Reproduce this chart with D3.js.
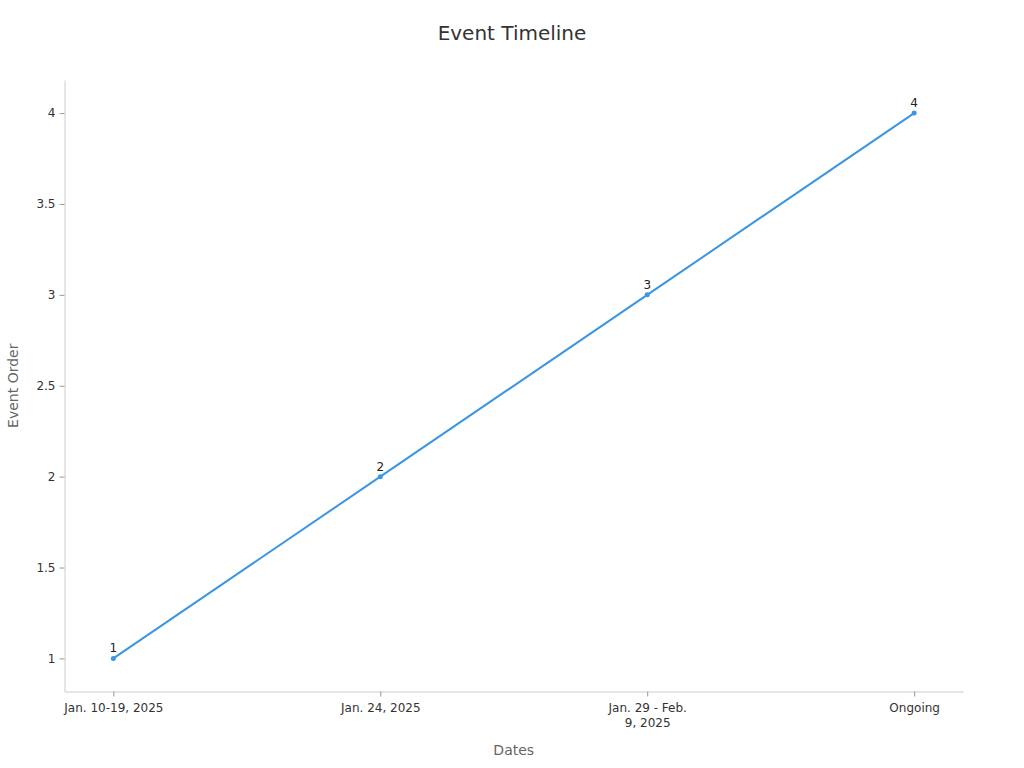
<!DOCTYPE html>
<html>
<head>
<meta charset="utf-8">
<script src="https://cdn.jsdelivr.net/npm/d3@7"></script>
<style>
  body { margin: 0; background: #fff; }
  svg, svg text { font-family: "DejaVu Sans", sans-serif; }
</style>
</head>
<body>
<svg width="1024" height="768"></svg>
<script>
// chart data
var dates = ['Jan. 10-19, 2025', 'Jan. 24, 2025', 'Jan. 29 - Feb. 9, 2025', 'Ongoing'];
var eventOrder = [1, 2, 3, 4];
var yTicks = [1, 1.5, 2, 2.5, 3, 3.5, 4];

var svg = d3.select('svg');
var svgWidth = +svg.attr('width');
var svgHeight = +svg.attr('height');

var padding = { t: 80, r: 61, b: 76.5, l: 64.5 };
var chartWidth = svgWidth - padding.l - padding.r;
var chartHeight = svgHeight - padding.t - padding.b;

var chartG = svg.append('g')
    .attr('transform', `translate(${padding.l}, ${padding.t})`);

var xScale = d3.scalePoint().domain(dates).range([0, chartWidth]).padding(0.183);
var yScale = d3.scaleLinear().domain([0.818, 4.182]).range([chartHeight, 0]);

// wrap long tick labels by character count
function wrap(text, maxChars) {
    text.each(function() {
        var t = d3.select(this);
        var words = t.text().split(/\s+/);
        var lines = [];
        var cur = '';
        words.forEach(function(w) {
            var next = cur ? cur + ' ' + w : w;
            if (next.length > maxChars && cur) {
                lines.push(cur);
                cur = w;
            } else {
                cur = next;
            }
        });
        lines.push(cur);
        var y = t.attr('y');
        var dy = parseFloat(t.attr('dy'));
        t.text(null);
        lines.forEach(function(l, i) {
            t.append('tspan').attr('x', 0).attr('y', y)
                .attr('dy', (dy + i * 1.25) + 'em').text(l);
        });
    });
}

// x axis
var xAxis = chartG.append('g')
    .attr('transform', `translate(0, ${chartHeight})`)
    .attr('font-family', 'DejaVu Sans')
    .call(d3.axisBottom(xScale).tickSize(5).tickSizeOuter(0).tickPadding(7));
xAxis.select('.domain').attr('stroke', '#cccccc');
xAxis.selectAll('.tick line').attr('stroke', '#999');
xAxis.selectAll('.tick text').attr('fill', '#333').attr('font-size', '12px')
    .call(wrap, 16);

// y axis
var yAxis = chartG.append('g')
    .attr('font-family', 'DejaVu Sans')
    .call(d3.axisLeft(yScale).tickValues(yTicks).tickFormat(d3.format('~g'))
        .tickSize(5).tickSizeOuter(0).tickPadding(4));
yAxis.select('.domain').attr('stroke', '#cccccc');
yAxis.selectAll('.tick line').attr('stroke', '#999');
yAxis.selectAll('.tick text').attr('fill', '#333').attr('font-size', '12px');

// line
var pts = dates.map(function(d, i) { return { date: d, order: eventOrder[i] }; });
var line = d3.line()
    .x(function(d) { return xScale(d.date); })
    .y(function(d) { return yScale(d.order); });

chartG.append('path').datum(pts)
    .attr('d', line)
    .attr('fill', 'none')
    .attr('stroke', '#3a95e4')
    .attr('stroke-width', 2);

chartG.selectAll('.dot').data(pts).enter().append('circle')
    .attr('class', 'dot')
    .attr('cx', function(d) { return xScale(d.date); })
    .attr('cy', function(d) { return yScale(d.order); })
    .attr('r', 2.5)
    .attr('fill', '#3a95e4');

chartG.selectAll('.pt-label').data(pts).enter().append('text')
    .attr('class', 'pt-label')
    .attr('x', function(d) { return xScale(d.date); })
    .attr('y', function(d) { return yScale(d.order) - 6; })
    .attr('text-anchor', 'middle')
    .attr('font-size', '12px')
    .attr('fill', '#222')
    .text(function(d) { return d.order; });

// titles
svg.append('text')
    .attr('x', svgWidth / 2).attr('y', 40)
    .attr('text-anchor', 'middle')
    .attr('font-size', '20px')
    .attr('fill', '#333')
    .text('Event Timeline');

svg.append('text')
    .attr('x', padding.l + chartWidth / 2).attr('y', 755)
    .attr('text-anchor', 'middle')
    .attr('font-size', '14px')
    .attr('fill', '#666')
    .text('Dates');

svg.append('text')
    .attr('transform', `translate(18, ${padding.t + chartHeight / 2}) rotate(-90)`)
    .attr('text-anchor', 'middle')
    .attr('font-size', '14px')
    .attr('fill', '#666')
    .text('Event Order');
</script>
</body>
</html>
